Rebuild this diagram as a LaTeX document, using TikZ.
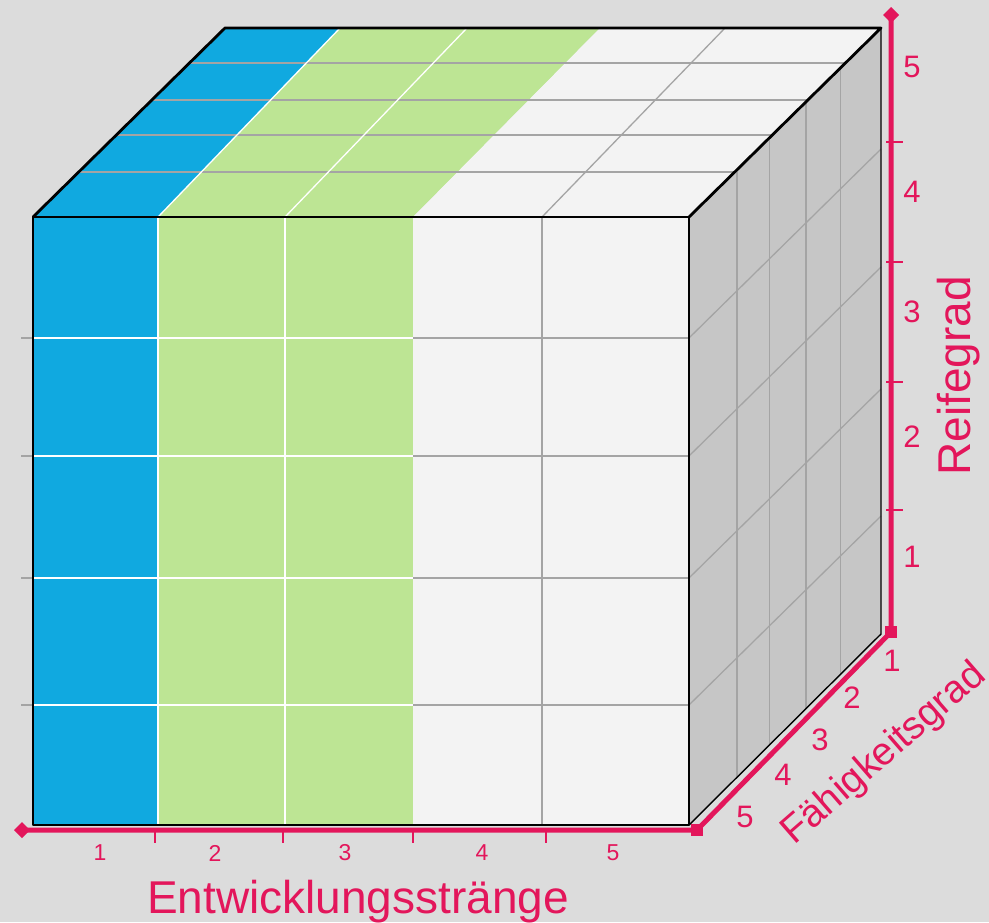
\documentclass[tikz,border=0pt]{standalone}
\usepackage{fontspec}
\setmainfont{Liberation Sans}
\usetikzlibrary{calc}
\definecolor{bg}{HTML}{DCDCDC}
\definecolor{cblue}{HTML}{10A9E0}
\definecolor{cgreen}{HTML}{BDE594}
\definecolor{cwhite}{HTML}{F3F3F3}
\definecolor{cside}{HTML}{C6C6C6}
\definecolor{cpink}{HTML}{E3165B}
\definecolor{cgrid}{HTML}{A4A4A4}
\begin{document}
\begin{tikzpicture}[x=1pt,y=-1pt,
  edge/.style={black,line width=2.8pt,line join=round,line cap=round},
  thinedge/.style={black,line width=1.4pt,line join=round},
  gridg/.style={cgrid,line width=1.3pt},
  gridw/.style={white,line width=1.3pt},
  axisline/.style={cpink,line width=5pt,line join=miter},
  tickline/.style={cpink,line width=1.5pt},
  lbl/.style={text=cpink,inner sep=0pt,font=\fontsize{31}{31}\selectfont},
  lbls/.style={text=cpink,inner sep=0pt,font=\fontsize{23}{23}\selectfont},
  ttl/.style={text=cpink,inner sep=0pt,font=\fontsize{46}{46}\selectfont}]
\useasboundingbox (0,0) rectangle (989,922);
\fill[bg] (0,0) rectangle (989,922);
% corners
\coordinate (FTL) at (33,217);
\coordinate (FTR) at (689,217);
\coordinate (FBL) at (33,825);
\coordinate (FBR) at (689,825);
\coordinate (BTL) at (225,28);
\coordinate (BTR) at (881,28);
\coordinate (BBR) at (881,634);
% top face
\fill[cblue] (33,217) -- (158,217) -- (340,28) -- (225,28) -- cycle;
\fill[cgreen] (158,217) -- (413,217) -- (600,28) -- (340,28) -- cycle;
\fill[cwhite] (413,217) -- (689,217) -- (881,28) -- (600,28) -- cycle;
% front face
\fill[cblue] (33,217) rectangle (158,825);
\fill[cgreen] (158,217) rectangle (413,825);
\fill[cwhite] (413,217) rectangle (689,825);
% right face
\fill[cside] (FTR) -- (BTR) -- (BBR) -- (FBR) -- cycle;
% top grid
\foreach \t in {0.238,0.434,0.619,0.815}
  \draw[gridg] ($(FTL)!\t!(BTL)$) -- ($(FTR)!\t!(BTR)$);
\draw[gridw] (158,217) -- (340,28);
\draw[gridw] (285,217) -- (467,28);
\draw[gridg] (542,217) -- (725,28);
% front grid
\foreach \y in {338,456,578,705}{
  \draw[gridg] (21,\y) -- (33,\y);
  \draw[gridw] (33,\y) -- (413,\y);
  \draw[gridg] (413,\y) -- (689,\y);
}
\draw[gridw] (158,217) -- (158,825);
\draw[gridw] (285,217) -- (285,825);
\draw[gridg] (542,217) -- (542,825);
% right face grid
\foreach \s in {0.25,0.42,0.61,0.79}
  \draw[gridg] ($(FTR)!\s!(BTR)$) -- ($(FBR)!\s!(BBR)$);
\foreach \y in {338,456,578,705}
  \draw[gridg] (689,\y) -- (881,\y-189);
% outlines
\draw[thinedge] (BTR) -- (BBR) -- (FBR);
\draw[edge] (FBL) -- (FTL) -- (FTR) -- (FBR) -- cycle;
\draw[edge] (FTL) -- (BTL) -- (BTR) -- (FTR);
% axes
\coordinate (AO) at (697,830);
\coordinate (AX) at (22,830);
\coordinate (AY) at (891,15);
\coordinate (AZ) at (891,632);
\draw[axisline] (AX) -- (AO) -- (AZ) -- (AY);
\fill[cpink] ($(AX)+(-8,0)$) -- ($(AX)+(0,-8)$) -- ($(AX)+(8,0)$) -- ($(AX)+(0,8)$) -- cycle;
\fill[cpink] ($(AY)+(-8,0)$) -- ($(AY)+(0,-8)$) -- ($(AY)+(8,0)$) -- ($(AY)+(0,8)$) -- cycle;
\fill[cpink] ($(AO)+(-6,-6)$) rectangle ($(AO)+(6,6)$);
\fill[cpink] ($(AZ)+(-6,-6)$) rectangle ($(AZ)+(6,6)$);
\foreach \y in {142,262,382,510}
  \draw[tickline] (886,\y) -- (903,\y);
\foreach \x in {155,283,413,546}
  \draw[tickline] (\x,830) -- (\x,843);
% labels
\node[lbls] (b1) at (100,853) {1};
\node[lbls] (b2) at (215,853) {2};
\node[lbls] (b3) at (345,853) {3};
\node[lbls] (b4) at (482,853) {4};
\node[lbls] (b5) at (613,853) {5};
\node[lbl] (r5) at (912,67) {5};
\node[lbl] (r4) at (912,192) {4};
\node[lbl] (r3) at (912,312) {3};
\node[lbl] (r2) at (912,437) {2};
\node[lbl] (r1) at (912,557) {1};
\node[lbl] (d1) at (892,661) {1};
\node[lbl] (d2) at (852,698) {2};
\node[lbl] (d3) at (820,740) {3};
\node[lbl] (d4) at (783,775) {4};
\node[lbl] (d5) at (745,817) {5};
\node[ttl,anchor=base] (tx) at (358,913) {Entwicklungsstränge};
\node[ttl,anchor=base,rotate=90] (ty) at (970,376) {Reifegrad};
\node[ttl,anchor=base,rotate=41,font=\fontsize{39}{39}\selectfont] (tz) at (891,762) {Fähigkeitsgrad};
\end{tikzpicture}
\end{document}
